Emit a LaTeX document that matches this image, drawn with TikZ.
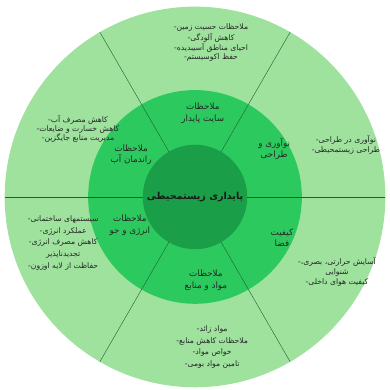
\documentclass[tikz,border=0pt]{standalone}
\usepackage{fontspec}
\newfontfamily\farsi[Script=Arabic]{DejaVu Sans}
\TeXXeTstate=1
\usetikzlibrary{calc}

\definecolor{ringOuter}{RGB}{158,226,158}
\definecolor{ringMid}{RGB}{44,202,94}
\definecolor{ringCore}{RGB}{26,158,72}
\definecolor{ringLine}{RGB}{30,96,52}

\tikzset{
  outertext/.style={font=\farsi\fontsize{5.6}{7.4}\selectfont, align=center, text=black!85},
  midtext/.style={font=\farsi\fontsize{6.4}{8.4}\selectfont, align=center, text=black!85},
  coretext/.style={font=\farsi\bfseries\fontsize{7}{9}\selectfont, text=black!90},
}

\begin{document}
\begin{tikzpicture}
\def\outerRadius{4.88}
\def\midRadius{2.74}
\def\coreRadius{1.34}

    \useasboundingbox (-5,-4.95) rectangle (5,5.05);
    \clip (-5,-4.95) rectangle (5,5.05);
    \coordinate (C) at (0,0);
    \fill[ringOuter] (C) circle [radius = \outerRadius];
    \fill[ringMid] (C) circle [radius = \midRadius];

    %Dividers
    \coordinate (D1) at (0:\outerRadius);
    \coordinate (D2) at (60:\outerRadius);
    \coordinate (D3) at (120:\outerRadius);
    \coordinate (D4) at (180:\outerRadius);
    \coordinate (D5) at (240:\outerRadius);
    \coordinate (D6) at (300:\outerRadius);
    \draw[ringLine, line width=0.3pt] (C) -- (D1);
    \draw[ringLine, line width=0.3pt] (C) -- (D2);
    \draw[ringLine, line width=0.3pt] (C) -- (D3);
    \draw[ringLine, line width=0.3pt] (C) -- (D4);
    \draw[ringLine, line width=0.3pt] (C) -- (D5);
    \draw[ringLine, line width=0.3pt] (C) -- (D6);

    \fill[ringCore] (C) circle [radius = \coreRadius];

    %Core
    \node[coretext] (core) at (C) {\beginR پایداری زیستمحیطی\endR};

    %Middle ring labels
    \node[midtext] (site) at (0.20,2.15) {\beginR ملاحظات\endR\\\beginR سایت پایدار\endR};
    \node[midtext] (innov) at (2.03,1.23) {\beginR نوآوری و\endR\\\beginR طراحی\endR};
    \node[midtext] (space) at (2.23,-1.05) {\beginR کیفیت\endR\\\beginR فضا\endR};
    \node[midtext] (mater) at (0.28,-2.13) {\beginR ملاحظات\endR\\\beginR مواد و منابع\endR};
    \node[midtext] (energy) at (-1.67,-0.72) {\beginR ملاحظات\endR\\\beginR انرژی و جو\endR};
    \node[midtext] (water) at (-1.64,1.08) {\beginR ملاحظات\endR\\\beginR راندمان آب\endR};

    %Outer ring labels
    \node[outertext, font=\farsi\fontsize{5.6}{6.5}\selectfont] (siteList) at (0.41,3.95)
      {-\beginR ملاحظات حسیت زمین\endR\\-\beginR کاهش آلودگی\endR\\-\beginR احیای مناطق آسیبدیده\endR\\-\beginR حفظ اکوسیستم\endR};
    \node[outertext, font=\farsi\fontsize{5.6}{6.5}\selectfont] (waterList) at (-3.0,1.74)
      {-\beginR کاهش مصرف آب\endR\\-\beginR کاهش خسارت و ضایعات\endR\\-\beginR مدیریت منابع جایگزین\endR};
    \node[outertext] (innovList) at (3.87,1.33)
      {-\beginR نوآوری در طراحی\endR\\-\beginR طراحی زیستمحیطی\endR};
    \node[outertext, font=\farsi\fontsize{5.6}{8.6}\selectfont] (energyList) at (-3.38,-1.18)
      {-\beginR سیستمهای ساختمانی\endR\\-\beginR عملکرد انرژی\endR\\-\beginR کاهش مصرف انرژی\endR\\\beginR تجدیدناپذیر\endR\\-\beginR حفاظت از لایه اوزون\endR};
    \node[outertext] (spaceList) at (3.64,-1.92)
      {-\beginR آسایش حرارتی، بصری،\endR\\\beginR شنوایی\endR\\-\beginR کیفیت هوای داخلی\endR};
    \node[outertext, font=\farsi\fontsize{5.6}{8.4}\selectfont] (materList) at (0.44,-3.85)
      {-\beginR مواد زائد\endR\\-\beginR ملاحظات کاهش منابع\endR\\-\beginR خواص مواد\endR\\-\beginR تامین مواد بومی\endR};
\end{tikzpicture}
\end{document}
